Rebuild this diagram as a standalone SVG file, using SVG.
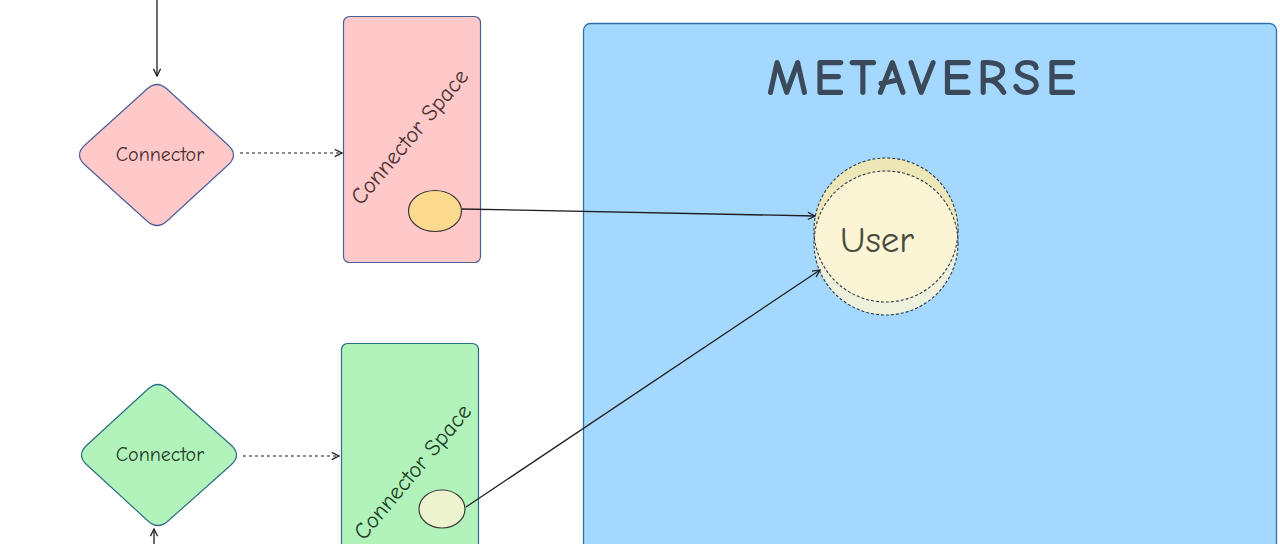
<svg xmlns="http://www.w3.org/2000/svg" width="1280" height="544" viewBox="0 0 1280 544">
<defs>
<style>
.lbl{font-family:"Comic Neue","Noto Sans","Liberation Sans",sans-serif;}
.conn{fill:none;stroke:#1e1e1e;stroke-width:1.3;}
.dash{fill:none;stroke:#1e1e1e;stroke-width:1.2;stroke-dasharray:3 3;}
</style>
<marker id="ah" viewBox="0 0 10 10" refX="9" refY="5" markerWidth="9" markerHeight="9" markerUnits="userSpaceOnUse" orient="auto">
<path d="M1,1 L9,5 L1,9" fill="none" stroke="#1e1e1e" stroke-width="1.4"/>
</marker>
<clipPath id="cA"><circle cx="886" cy="230" r="72"/></clipPath>
</defs>
<rect width="1280" height="544" fill="#ffffff"/>

<g id="metaverse">
<rect x="583.5" y="23.5" width="693" height="540" rx="7" fill="#a5d8ff" stroke="#2f6fae" stroke-width="1.3"/>
<text class="lbl" x="924" y="95" text-anchor="middle" font-size="52" font-weight="bold" letter-spacing="5" fill="#3b4a5a">METAVERSE</text>
</g>

<g id="connector-space-pink">
<rect x="343.5" y="16.5" width="137" height="246" rx="6" fill="#ffc9c9" stroke="#4b5f98" stroke-width="1.2"/>
<text class="lbl" transform="translate(411,138) rotate(-50)" text-anchor="middle" dominant-baseline="middle" font-size="23" fill="#4a2f2f">Connector Space</text>
<ellipse cx="435" cy="211" rx="26.5" ry="20.5" fill="#fbd98e" stroke="#3a3a3a" stroke-width="1.2"/>
</g>

<g id="connector-space-green">
<rect x="341.5" y="343.5" width="137" height="230" rx="6" fill="#b2f2bb" stroke="#2b6f86" stroke-width="1.2"/>
<text class="lbl" transform="translate(414,473) rotate(-50)" text-anchor="middle" dominant-baseline="middle" font-size="23" fill="#1e3d26">Connector Space</text>
<ellipse cx="442" cy="509" rx="23" ry="19" fill="#edf3cf" stroke="#3a3a3a" stroke-width="1.2"/>
</g>

<g id="connector-pink">
<path d="M167,89 L228,145 Q239,155 228,165 L167,221 Q157,230 147,221 L85,165 Q74,155 85,145 L147,89 Q157,80 167,89 Z" fill="#ffc9c9" stroke="#4b5f98" stroke-width="1.2"/>
<text class="lbl" x="160" y="156" text-anchor="middle" dominant-baseline="middle" font-size="20" fill="#4a2f2f">Connector</text>
</g>

<g id="connector-green">
<path d="M168,389 L231,445 Q242,455 231,465 L168,521 Q158,530 148,521 L87,465 Q76,455 87,445 L148,389 Q158,380 168,389 Z" fill="#b2f2bb" stroke="#2b6f86" stroke-width="1.2"/>
<text class="lbl" x="160" y="456" text-anchor="middle" dominant-baseline="middle" font-size="20" fill="#1e3d26">Connector</text>
</g>

<g id="user">
<circle cx="886" cy="230" r="72" fill="#eee8b8"/>
<circle cx="886" cy="243" r="72" fill="#eef1dc"/>
<circle cx="886" cy="243" r="72" fill="#fbf5d6" clip-path="url(#cA)"/>
<circle cx="886" cy="230" r="72" fill="none" stroke="#2f3b4a" stroke-width="1.1" stroke-dasharray="3 2"/>
<circle cx="886" cy="243" r="72" fill="none" stroke="#2f3b4a" stroke-width="1.1" stroke-dasharray="3 2"/>
<text class="lbl" x="877" y="243" text-anchor="middle" dominant-baseline="middle" font-size="37" fill="#4a4a40">User</text>
</g>

<g id="connectors">
<line class="conn" x1="157" y1="0" x2="157" y2="76" marker-end="url(#ah)"/>
<line class="dash" x1="240" y1="153" x2="342" y2="153" marker-end="url(#ah)"/>
<line class="dash" x1="243" y1="456" x2="339" y2="456" marker-end="url(#ah)"/>
<line class="conn" x1="154" y1="544" x2="154" y2="529" marker-end="url(#ah)"/>
<line class="conn" x1="462" y1="209" x2="815" y2="216" marker-end="url(#ah)"/>
<line class="conn" x1="466" y1="507" x2="820" y2="270" marker-end="url(#ah)"/>
</g>
</svg>
